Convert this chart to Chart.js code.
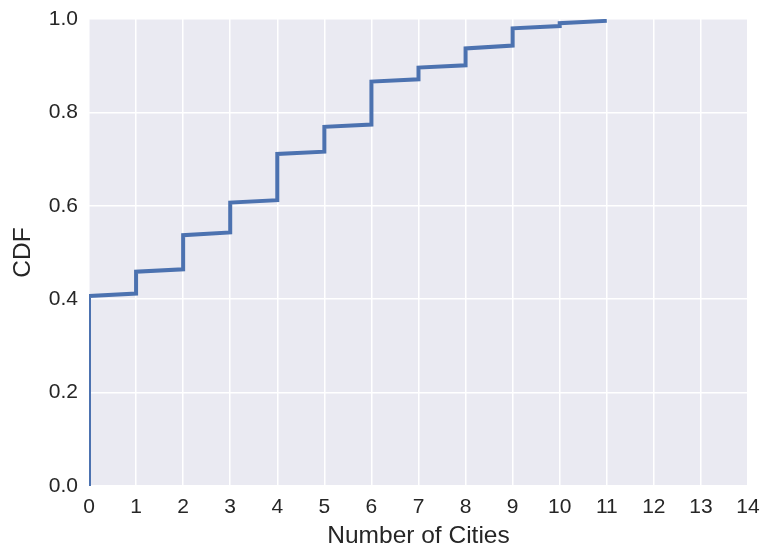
<!DOCTYPE html>
<html>
<head>
<meta charset="utf-8">
<script src="https://cdn.jsdelivr.net/npm/chart.js@4"></script>
<style>
  html, body { margin: 0; padding: 0; background: #ffffff; }
  #wrap { width: 762px; height: 552px; }
</style>
</head>
<body>
<div id="wrap"><canvas id="cdfChart" width="762" height="552"></canvas></div>
<script>
// Number of cities (x) and cumulative share (y)
var cities = [0, 0, 1, 1, 2, 2, 3, 3, 4, 4, 5, 5, 6, 6, 7, 7, 8, 8, 9, 9, 10, 10, 11];
var cdf = [0, 0.407, 0.412, 0.459, 0.464, 0.537, 0.543, 0.607, 0.612, 0.711, 0.716, 0.769,
           0.774, 0.866, 0.871, 0.896, 0.901, 0.937, 0.943, 0.980, 0.985, 0.991, 0.996];
var xTicks = [0, 1, 2, 3, 4, 5, 6, 7, 8, 9, 10, 11, 12, 13, 14];
var yTicks = [0, 0.2, 0.4, 0.6, 0.8, 1.0];

var points = cities.map(function (c, i) { return { x: c, y: cdf[i] }; });

// paint the seaborn-style grey panel behind the grid
var panelBg = {
    id: 'panelBg',
    beforeDraw: function (chart) {
        var a = chart.chartArea;
        var c = chart.ctx;
        c.save();
        c.fillStyle = '#EAEAF2';
        c.fillRect(a.left, a.top, a.right - a.left, a.bottom - a.top);
        c.restore();
    }
};

var fontFam = 'Liberation Sans, Arial, sans-serif';

var ctx = document.getElementById('cdfChart').getContext('2d');
var chart = new Chart(ctx, {
    type: 'scatter',
    data: {
        datasets: [{
            label: 'CDF',
            data: points,
            showLine: true,
            borderColor: '#4C72B0',
            borderWidth: 4,
            pointRadius: 0,
            tension: 0,
            clip: 0
        }]
    },
    options: {
        responsive: false,
        animation: false,
        layout: { padding: { left: 0, right: 14, top: 19, bottom: 0 } },
        plugins: {
            legend: { display: false },
            tooltip: { enabled: false }
        },
        scales: {
            x: {
                type: 'linear',
                min: xTicks[0],
                max: xTicks[xTicks.length - 1],
                afterBuildTicks: function (axis) {
                    axis.ticks = xTicks.map(function (v) { return { value: v }; });
                },
                afterFit: function (axis) {
                    axis.height = 66;
                    axis.paddingLeft = 0;
                    axis.paddingRight = 0;
                },
                border: { display: false },
                grid: { color: '#ffffff', lineWidth: 1.5, drawTicks: false },
                ticks: {
                    color: '#262626',
                    padding: 9,
                    maxRotation: 0,
                    font: { family: fontFam, size: 21 }
                },
                title: {
                    display: true,
                    text: 'Number of Cities',
                    color: '#262626',
                    padding: { top: 0, bottom: 1 },
                    font: { family: fontFam, size: 24.5 }
                }
            },
            y: {
                type: 'linear',
                min: 0,
                max: 1,
                afterBuildTicks: function (axis) {
                    axis.ticks = yTicks.map(function (v) { return { value: v }; });
                },
                afterFit: function (axis) {
                    axis.width = 89;
                    axis.paddingTop = 0;
                    axis.paddingBottom = 0;
                },
                border: { display: false },
                grid: { color: '#ffffff', lineWidth: 1.5, drawTicks: false },
                ticks: {
                    color: '#262626',
                    padding: 11,
                    font: { family: fontFam, size: 21 },
                    callback: function (v) { return Number(v).toFixed(1); }
                },
                title: {
                    display: true,
                    text: 'CDF',
                    color: '#262626',
                    padding: { top: 9, bottom: 0 },
                    font: { family: fontFam, size: 24.5 }
                }
            }
        }
    },
    plugins: [panelBg]
});
</script>
</body>
</html>
